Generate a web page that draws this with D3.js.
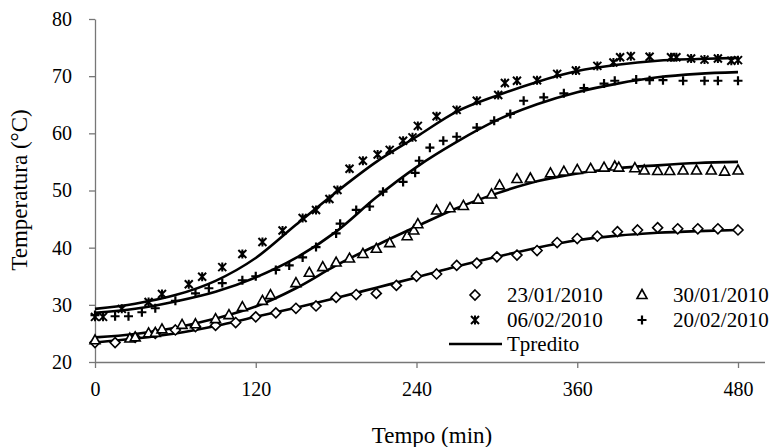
<!DOCTYPE html>
<html>
<head>
<meta charset="utf-8">
<script src="https://cdn.jsdelivr.net/npm/d3@7"></script>
<style>
  body { margin: 0; background: #fff; }
</style>
</head>
<body>
<div id="chart"></div>
<script>
// ticks
const xTicks = [0, 120, 240, 360, 480]
const yTicks = [20, 30, 40, 50, 60, 70, 80]

// 23/01/2010 (losangos)
const timeA = [0,15,30,45,60,75,90,105,120,135,150,165,180,195,210,225,240,255,270,285,300,315,330,345,360,375,390,405,420,435,450,465,480]
const tempA = [23.4,23.4,24.3,25.0,25.6,26.2,26.4,26.9,27.9,28.6,29.4,29.8,31.3,31.8,32.0,33.4,35.0,35.4,36.9,37.3,38.4,38.7,39.5,40.9,41.6,42.0,42.8,43.1,43.5,43.3,43.3,43.3,43.1]

// 30/01/2010 (triangulos)
const timeB = [0,26,30,40,45,50,65,75,90,100,110,125,131,150,160,170,180,190,200,210,220,233,238,241,255,265,275,286,296,302,315,325,340,350,360,370,380,388,391,403,410,420,429,439,449,460,470,480]
const tempB = [23.8,24.1,24.3,25.0,25.1,25.7,26.5,26.6,27.5,28.2,29.6,30.7,31.7,33.8,35.6,36.6,37.4,38.1,38.9,39.8,40.8,42.0,43.0,44.1,46.5,46.9,47.3,48.4,49.3,50.9,52.0,52.1,53.0,53.3,53.6,53.8,54.0,54.2,54.0,53.9,53.5,53.4,53.4,53.5,53.5,53.5,53.3,53.5]

// 06/02/2010 (asteriscos)
const timeC = [0,6,20,40,50,70,80,95,110,125,140,155,165,175,181,190,200,211,220,230,237,241,255,270,285,301,306,315,330,345,359,375,387,392,400,414,430,434,445,455,465,475,480]
const tempC = [27.9,27.9,29.3,30.5,31.9,33.6,34.9,36.6,38.9,41.0,43.0,45.2,46.6,48.5,50.1,53.8,55.2,56.3,57.1,58.7,59.3,61.3,63.0,64.1,65.7,66.7,68.8,69.2,69.3,70.4,71.0,71.8,72.4,73.3,73.5,73.4,73.3,73.3,73.1,72.9,73.1,72.7,72.8]

// 20/02/2010 (cruzes)
const timeD = [0,15,25,35,45,60,75,85,95,110,120,135,145,155,165,180,183,195,205,215,230,239,242,250,260,270,285,298,310,320,335,350,365,380,388,404,414,424,439,455,465,480]
const tempD = [28.2,28.0,28.0,28.7,29.4,30.7,32.0,32.9,33.8,34.3,35.0,36.1,36.9,38.3,40.1,42.5,44.2,46.6,47.2,49.8,51.5,53.1,55.2,57.5,58.7,59.4,61.0,62.2,63.4,65.7,66.3,67.0,67.9,68.7,69.2,69.4,69.3,69.3,69.2,69.2,69.2,69.2]

// Tpredito
const predTime = [0,30,60,90,120,150,180,210,240,270,300,330,360,390,420,450,480]
const predA = [23.4,24.1,25.0,26.3,27.9,29.5,31.2,33.0,34.8,36.7,38.4,40.0,41.3,42.1,42.6,42.9,43.1]
const predB = [24.3,24.9,26.0,27.6,29.7,32.9,36.9,40.4,43.7,46.9,49.5,51.6,53.0,53.9,54.4,54.8,55.0]
const predC = [29.3,30.2,31.7,34.2,38.2,44.0,49.7,55.0,59.4,63.8,66.6,69.0,70.9,72.0,72.7,73.0,73.2]
const predD = [28.6,29.3,30.6,32.3,34.8,38.2,42.8,48.8,54.1,58.5,62.3,65.1,67.2,68.7,69.8,70.4,70.7]

const legendLabels = ["23/01/2010", "30/01/2010", "06/02/2010", "20/02/2010", "Tpredito"]

const FONT = "Liberation Serif"
const svg = d3.select("#chart").append("svg")
              .attr("width", 771)
              .attr("height", 447)

let x = d3.scaleLinear().domain([0, 480]).range([95, 738])
let y = d3.scaleLinear().domain([20, 80]).range([362, 19])

const axisColor = "#777"

function label(sel, size) {
  sel.attr("font-size", size)
     .attr("font-family", FONT)
     .style("font-family", FONT)
     .attr("fill", "#000")
}

// axes
let xAxis = svg.append("g")
               .attr("transform", "translate(0," + y(20) + ")")
               .call(d3.axisBottom(x).tickValues(xTicks).tickSize(6).tickPadding(14).tickSizeOuter(0))
xAxis.attr("font-family", FONT)
xAxis.select(".domain").attr("stroke", axisColor).attr("stroke-width", 1.3)
     .attr("d", "M" + x(0) + ",0.5H765")
xAxis.selectAll(".tick line").attr("stroke", axisColor).attr("stroke-width", 1.3)
label(xAxis.selectAll("text"), 20)

let yAxis = svg.append("g")
               .attr("transform", "translate(" + x(0) + ",0)")
               .call(d3.axisLeft(y).tickValues(yTicks).tickSize(6).tickPadding(17).tickSizeOuter(0))
yAxis.attr("font-family", FONT)
yAxis.select(".domain").attr("stroke", axisColor).attr("stroke-width", 1.3)
yAxis.selectAll(".tick line").attr("stroke", axisColor).attr("stroke-width", 1.3)
label(yAxis.selectAll("text"), 20)

// titulos
svg.append("text")
   .attr("x", 432).attr("y", 443)
   .attr("text-anchor", "middle")
   .call(label, 23)
   .text("Tempo (min)")
svg.append("text")
   .attr("transform", "translate(27,190) rotate(-90)")
   .attr("text-anchor", "middle")
   .call(label, 23)
   .text("Temperatura (°C)")

// curvas preditas
let line = d3.line()
             .x(function(d, i) { return x(predTime[i]) })
             .y(function(d) { return y(d) })
             .curve(d3.curveMonotoneX)
;[predA, predB, predC, predD].forEach(function(p) {
  svg.append("path")
     .datum(p)
     .attr("fill", "none")
     .attr("stroke", "#000")
     .attr("stroke-width", 2.6)
     .attr("d", line)
})

// marcadores
function marker(type) {
  if (type == "diamond") return "M0,-5L5,0L0,5L-5,0Z"
  if (type == "triangle") return "M0,-5.5L5,3.5L-5,3.5Z"
  if (type == "star") return "M-4,-4L4,4M4,-4L-4,4M0,-4.5V4.5"
  return "M-4.5,0H4.5M0,-4.5V4.5"
}

function drawSeries(times, temps, type) {
  svg.append("g")
     .selectAll("path")
     .data(temps)
     .join("path")
     .attr("transform", function(d, i) { return "translate(" + x(times[i]) + "," + y(d) + ")" })
     .attr("d", marker(type))
     .attr("fill", type == "star" || type == "plus" ? "none" : "#fff")
     .attr("stroke", "#000")
     .attr("stroke-width", type == "plus" ? 2.2 : (type == "star" ? 2 : 1.6))
}

drawSeries(timeA, tempA, "diamond")
drawSeries(timeB, tempB, "triangle")
drawSeries(timeC, tempC, "star")
drawSeries(timeD, tempD, "plus")

// legenda
const legend = [
  {label: legendLabels[0], type: "diamond", mx: 475, tx: 507, ty: 295},
  {label: legendLabels[1], type: "triangle", mx: 642, tx: 673, ty: 295},
  {label: legendLabels[2], type: "star", mx: 475, tx: 507, ty: 320},
  {label: legendLabels[3], type: "plus", mx: 642, tx: 673, ty: 320}
]
legend.forEach(function(l) {
  svg.append("path")
     .attr("transform", "translate(" + l.mx + "," + l.ty + ")")
     .attr("d", marker(l.type))
     .attr("fill", l.type == "star" || l.type == "plus" ? "none" : "#fff")
     .attr("stroke", "#000")
     .attr("stroke-width", l.type == "plus" ? 2.2 : (l.type == "star" ? 2 : 1.6))
  svg.append("text")
     .attr("x", l.tx).attr("y", l.ty + 7)
     .call(label, 21)
     .text(l.label)
})
svg.append("line")
   .attr("x1", 449).attr("x2", 502)
   .attr("y1", 344).attr("y2", 344)
   .attr("stroke", "#000")
   .attr("stroke-width", 2.6)
svg.append("text")
   .attr("x", 507).attr("y", 351)
   .call(label, 21)
   .text(legendLabels[4])
</script>
</body>
</html>
